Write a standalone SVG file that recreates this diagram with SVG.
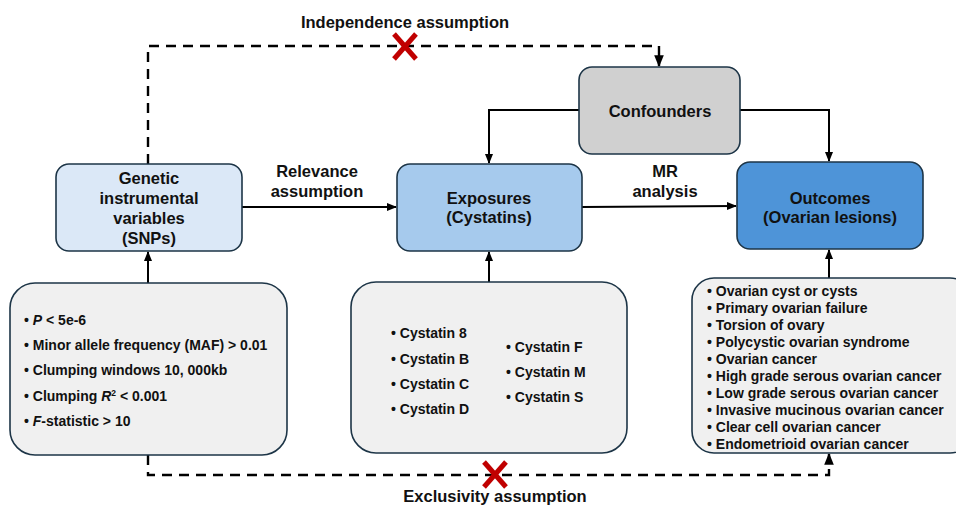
<svg xmlns="http://www.w3.org/2000/svg" width="956" height="506" viewBox="0 0 956 506">
<style>
text{font-family:"Liberation Sans",Arial,sans-serif;font-weight:bold;fill:#111;}
.t{font-size:16.5px;text-anchor:middle;}
.l{font-size:14px;}
.box{stroke:#1d3547;stroke-width:1.6;}
.c{stroke:#000;stroke-width:2;fill:none;}
.d{stroke:#000;stroke-width:2.4;fill:none;stroke-dasharray:10,7;}
.x{stroke:#c00000;stroke-width:5;}
</style>
<defs>
<marker id="ah" viewBox="0 0 10 10" refX="9" refY="5" markerWidth="5" markerHeight="5" orient="auto" markerUnits="strokeWidth"><path d="M0,1 L10,5 L0,9 z" fill="#000"/></marker>
</defs>
<rect width="956" height="506" fill="#fff"/>
<g id="connectors">
<path class="d" d="M148,164 V46 H659 V66" marker-end="url(#ah)"/>
<path class="d" d="M148,455 V475 H829 V454" marker-end="url(#ah)"/>
<path class="c" d="M579,110 H489 V163" marker-end="url(#ah)"/>
<path class="c" d="M740,110 H829 V161" marker-end="url(#ah)"/>
<path class="c" d="M242,207 H396" marker-end="url(#ah)"/>
<path class="c" d="M582,207 L736,206" marker-end="url(#ah)"/>
<path class="c" d="M148,283 V252" marker-end="url(#ah)"/>
<path class="c" d="M489,282 V252" marker-end="url(#ah)"/>
<path class="c" d="M829,278 V250" marker-end="url(#ah)"/>
<g class="x"><line x1="394" y1="34" x2="416" y2="59"/><line x1="416" y1="34" x2="394" y2="59"/></g>
<g class="x"><line x1="484" y1="462" x2="506" y2="487"/><line x1="506" y1="462" x2="484" y2="487"/></g>
<text class="t" x="405" y="28">Independence assumption</text>
<text class="t" x="495" y="502">Exclusivity assumption</text>
<text class="t" x="317" y="177">Relevance</text>
<text class="t" x="317" y="197">assumption</text>
<text class="t" x="665" y="177">MR</text>
<text class="t" x="665" y="197">analysis</text>
</g>
<g id="genetic">
<rect class="box" x="56" y="164" width="186" height="87" rx="13" fill="#dbe8f7"/>
<text class="t" x="149" y="184">Genetic</text>
<text class="t" x="149" y="204">instrumental</text>
<text class="t" x="149" y="224">variables</text>
<text class="t" x="149" y="244">(SNPs)</text>
</g>
<g id="exposures">
<rect class="box" x="397" y="164" width="185" height="87" rx="13" fill="#a6caed"/>
<text class="t" x="489" y="204">Exposures</text>
<text class="t" x="489" y="223">(Cystatins)</text>
</g>
<g id="confounders">
<rect class="box" x="579" y="67" width="161" height="87" rx="13" fill="#d0d0d0"/>
<text class="t" x="660" y="117">Confounders</text>
</g>
<g id="outcomes">
<rect class="box" x="737" y="162" width="186" height="87" rx="13" fill="#4e94d8"/>
<text class="t" x="830" y="204">Outcomes</text>
<text class="t" x="830" y="223">(Ovarian lesions)</text>
</g>
<g id="criteria">
<rect class="box" x="10" y="283" width="277" height="172" rx="25" fill="#f0f0f0"/>
<text class="l" x="24" y="325">• <tspan font-style="italic">P</tspan> &lt; 5e-6</text>
<text class="l" x="24" y="350">• Minor allele frequency (MAF) &gt; 0.01</text>
<text class="l" x="24" y="375">• Clumping windows 10, 000kb</text>
<text class="l" x="24" y="401">• Clumping <tspan font-style="italic">R</tspan><tspan font-size="8.5" dy="-5">2</tspan><tspan dy="5"> &lt; 0.001</tspan></text>
<text class="l" x="24" y="426">• <tspan font-style="italic">F</tspan>-statistic &gt; 10</text>
</g>
<g id="cystatins">
<rect class="box" x="351" y="282" width="276" height="171" rx="25" fill="#f0f0f0"/>
<text class="l" x="391" y="338">• Cystatin 8</text>
<text class="l" x="391" y="364">• Cystatin B</text>
<text class="l" x="391" y="389">• Cystatin C</text>
<text class="l" x="391" y="414">• Cystatin D</text>
<text class="l" x="506" y="352">• Cystatin F</text>
<text class="l" x="506" y="377">• Cystatin M</text>
<text class="l" x="506" y="402">• Cystatin S</text>
</g>
<g id="lesions">
<rect class="box" x="692" y="278" width="280" height="175" rx="22" fill="#f0f0f0"/>
<text class="l" x="707" y="296">• Ovarian cyst or cysts</text>
<text class="l" x="707" y="313">• Primary ovarian failure</text>
<text class="l" x="707" y="330">• Torsion of ovary</text>
<text class="l" x="707" y="347">• Polycystic ovarian syndrome</text>
<text class="l" x="707" y="364">• Ovarian cancer</text>
<text class="l" x="707" y="381">• High grade serous ovarian cancer</text>
<text class="l" x="707" y="398">• Low grade serous ovarian cancer</text>
<text class="l" x="707" y="415">• Invasive mucinous ovarian cancer</text>
<text class="l" x="707" y="432">• Clear cell ovarian cancer</text>
<text class="l" x="707" y="449">• Endometrioid ovarian cancer</text>
</g>
</svg>
